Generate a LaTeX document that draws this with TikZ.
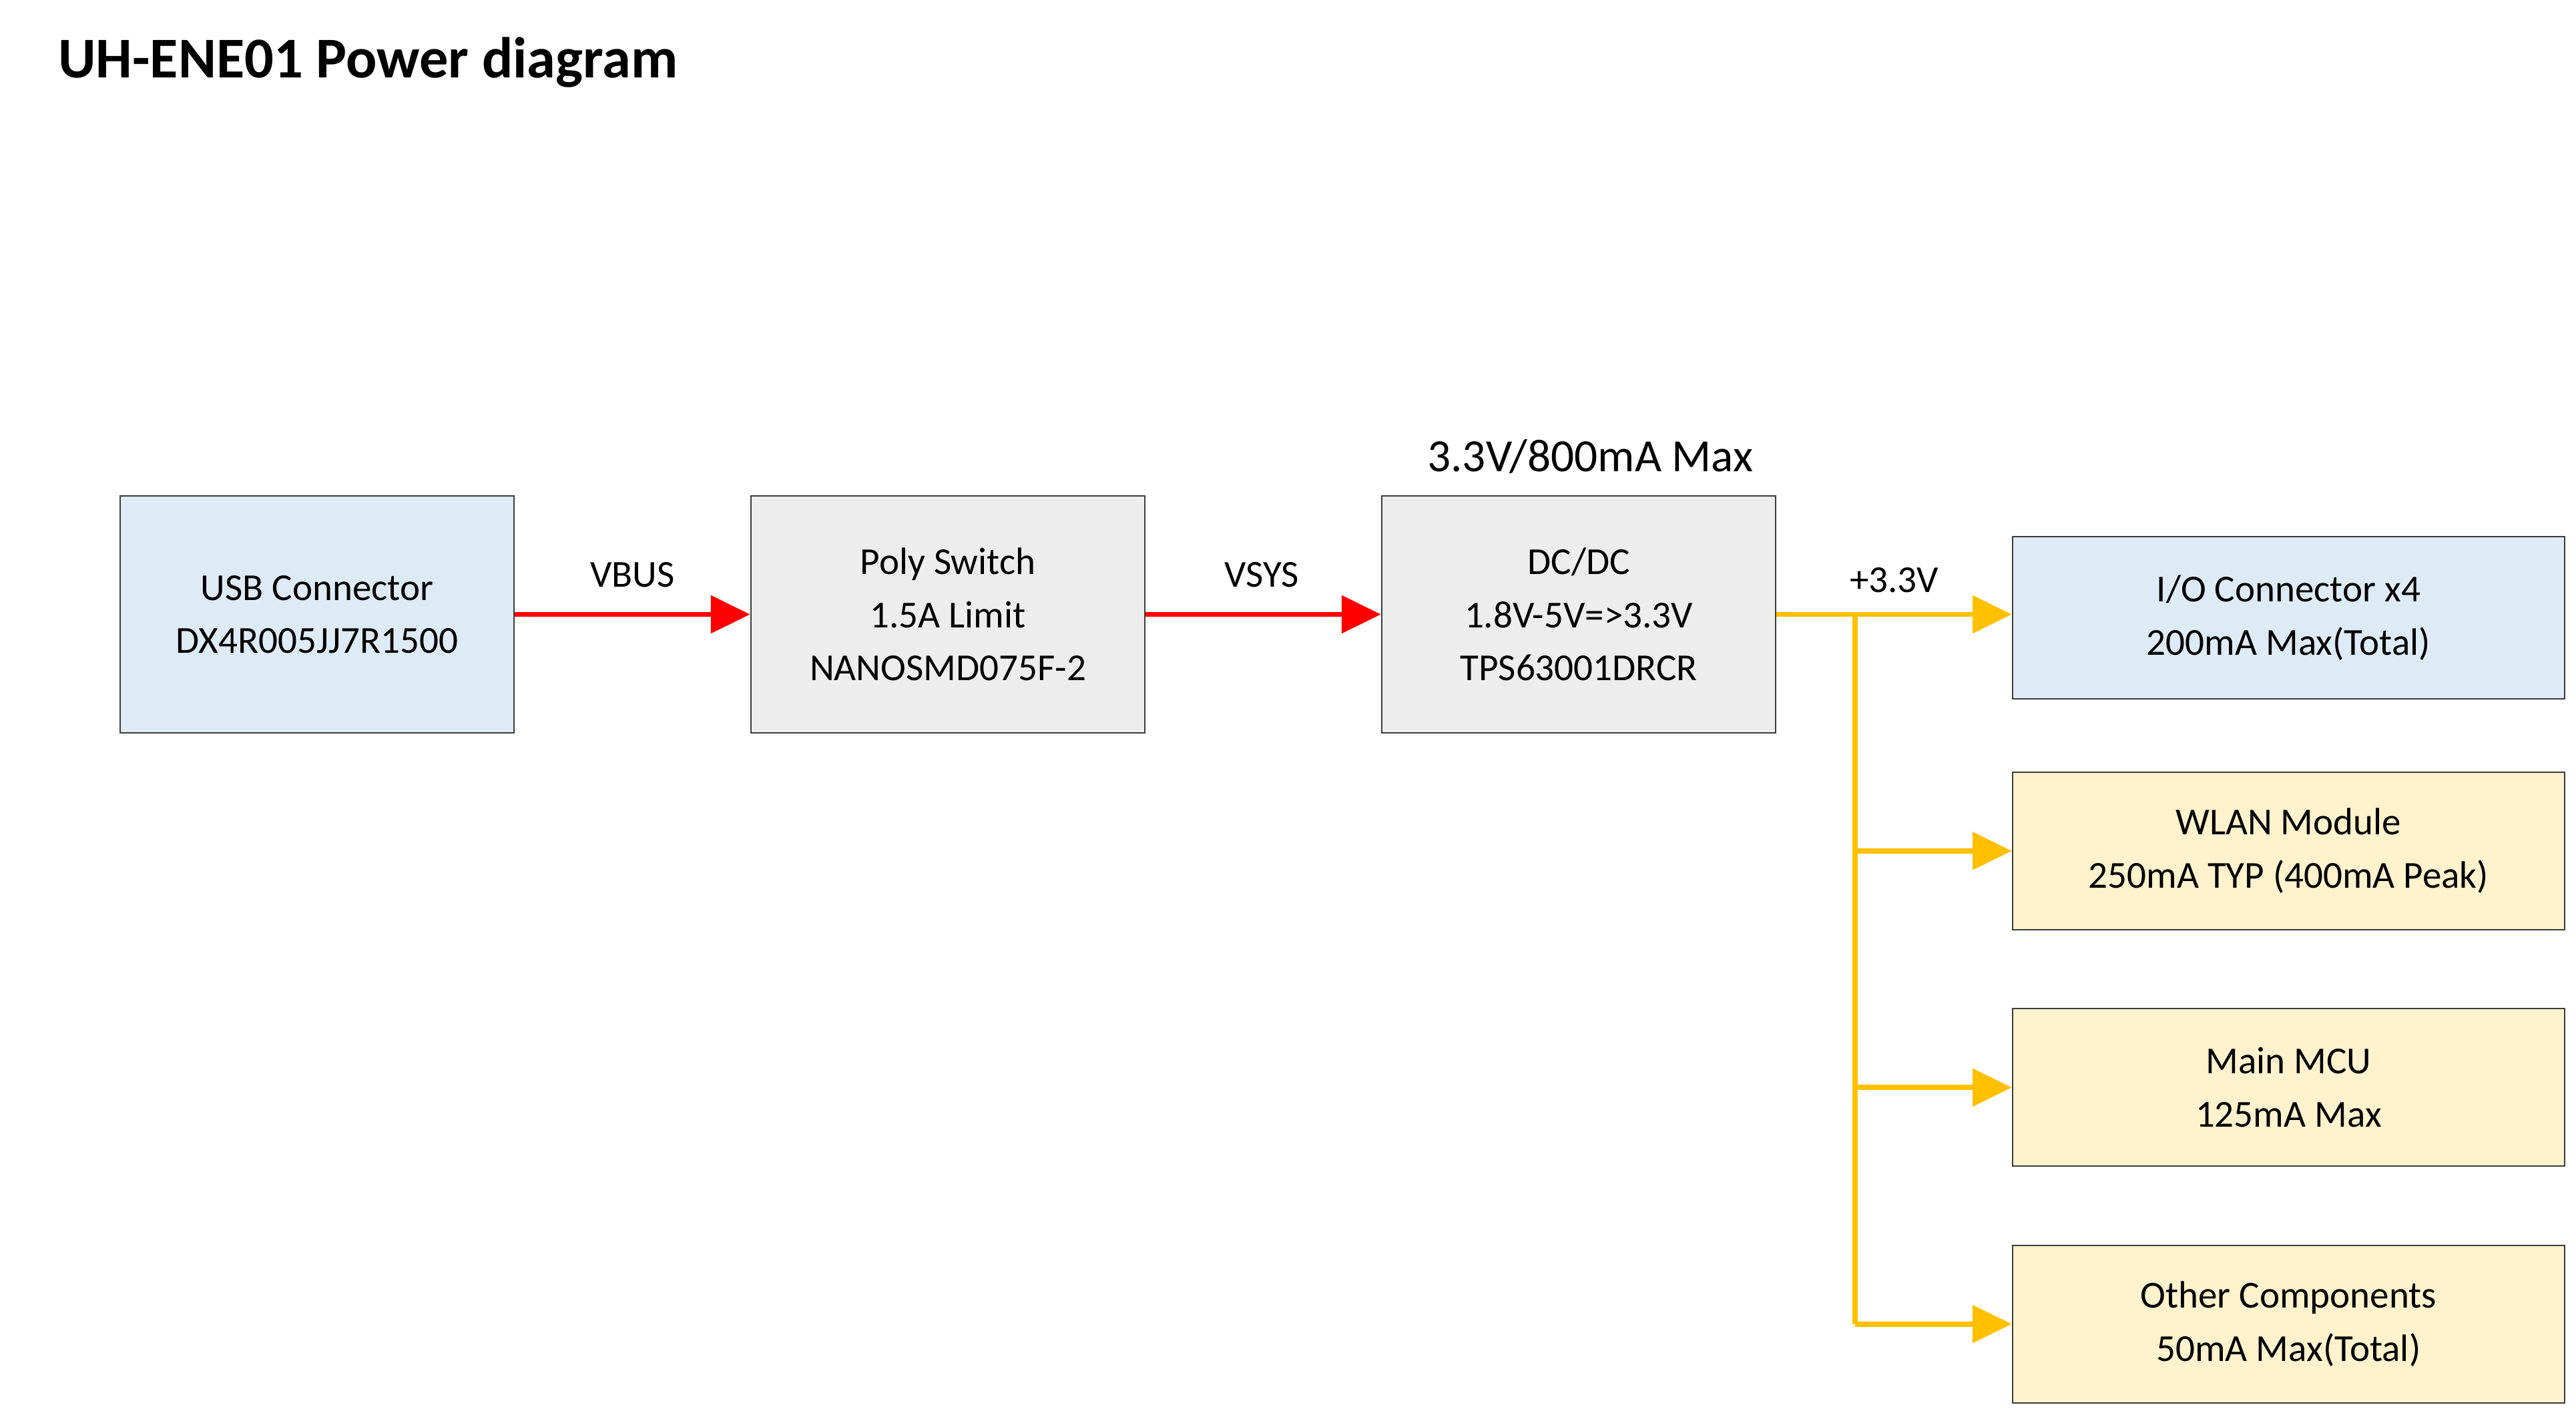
\documentclass[tikz,border=0pt]{standalone}
\usepackage{fontspec}
\setmainfont{Carlito}
\usetikzlibrary{arrows.meta}
\definecolor{bl}{RGB}{222,235,247}
\definecolor{gr}{RGB}{237,237,237}
\definecolor{ye}{RGB}{255,242,204}
\definecolor{rd}{RGB}{255,0,0}
\definecolor{yl}{RGB}{255,192,0}
\definecolor{bd}{RGB}{60,60,60}
\begin{document}
\begin{tikzpicture}[x=0.05cm,y=-0.05cm,
 box/.style={draw=bd,line width=1.2pt,align=center,font=\fontsize{33}{46}\selectfont,inner sep=0},
 lbl/.style={font=\fontsize{33}{40}\selectfont},
 ra/.style={draw=rd,line width=4.5pt,-{Triangle[length=34pt,width=32pt]}},
 ya/.style={draw=yl,line width=4.5pt,-{Triangle[length=34pt,width=32pt]}}]
\useasboundingbox (0,0) rectangle (1568,858.6);
\node[anchor=west,font=\fontsize{50}{60}\selectfont\bfseries] (t) at (33,38) {UH-ENE01 Power diagram};
\node[box,fill=bl,minimum width=240*1.4226pt,minimum height=144*1.4226pt] (usb) at (193,374) {USB Connector\\DX4R005JJ7R1500};
\node[box,fill=gr,minimum width=240*1.4226pt,minimum height=144*1.4226pt] (poly) at (577,374) {Poly Switch\\1.5A Limit\\NANOSMD075F-2};
\node[box,fill=gr,minimum width=240*1.4226pt,minimum height=144*1.4226pt] (dc) at (961,374) {DC/DC\\1.8V-5V=>3.3V\\TPS63001DRCR};
\node[box,fill=bl,minimum width=336*1.4226pt,minimum height=99*1.4226pt] (io) at (1393,376) {I/O Connector x4\\200mA Max(Total)};
\node[box,fill=ye,minimum width=336*1.4226pt,minimum height=96*1.4226pt] (wl) at (1393,518) {WLAN Module\\250mA TYP (400mA Peak)};
\node[box,fill=ye,minimum width=336*1.4226pt,minimum height=96*1.4226pt] (mcu) at (1393,662) {Main MCU\\125mA Max};
\node[box,fill=ye,minimum width=336*1.4226pt,minimum height=96*1.4226pt] (oth) at (1393,806) {Other Components\\50mA Max(Total)};
\node[font=\fontsize{40}{48}\selectfont] (mx) at (968,278) {3.3V/800mA Max};
\node[lbl] (vb) at (385,350) {VBUS};
\node[lbl] (vs) at (768,350) {VSYS};
\node[lbl] (p3) at (1153,353) {+3.3V};
\coordinate (j0) at (1129,374);
\coordinate (j1) at (1129,518);
\coordinate (j2) at (1129,662);
\coordinate (j3) at (1129,806);
\draw[ra] (usb.east) -- (poly.west);
\draw[ra] (poly.east) -- (dc.west);
\draw[ya] (dc.east) -- (io.west |- dc.east);
\draw[draw=yl,line width=4.5pt] (j0) -- (j3);
\draw[ya] (j1) -- (wl.west);
\draw[ya] (j2) -- (mcu.west);
\draw[ya] (j3) -- (oth.west);
\end{tikzpicture}
\end{document}
